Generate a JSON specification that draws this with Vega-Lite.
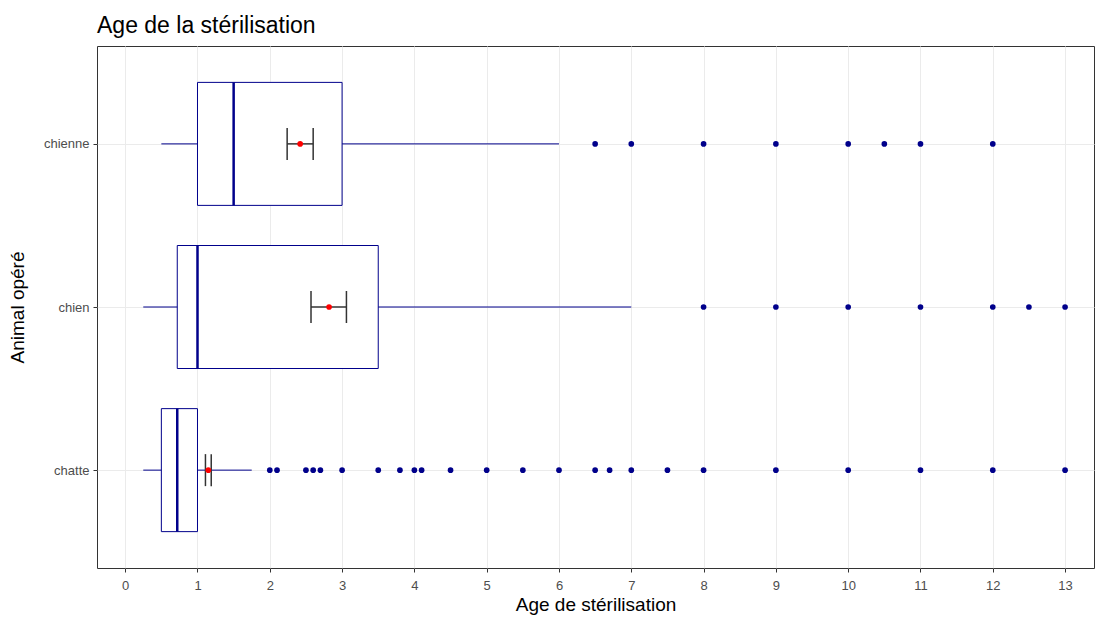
{
  "$schema": "https://vega.github.io/schema/vega-lite/v6.json",
  "autosize": {"type": "none"},
  "padding": {"left": 97, "top": 46, "right": 4, "bottom": 50},
  "width": 997,
  "height": 522,
  "title": {"text": "Age de la stérilisation", "anchor": "start", "frame": "group", "font": "Liberation Sans", "fontSize": 23, "fontWeight": "normal", "color": "#000000", "offset": 8},
  "datasets": {
    "boxes": [
      {"animal": "chienne", "lo": 0.5, "q1": 1.0, "med": 1.5, "q3": 3.0, "hi": 6.0, "mean": 2.42, "se_lo": 2.24, "se_hi": 2.6},
      {"animal": "chien", "lo": 0.25, "q1": 0.72, "med": 1.0, "q3": 3.5, "hi": 7.0, "mean": 2.82, "se_lo": 2.57, "se_hi": 3.06},
      {"animal": "chatte", "lo": 0.25, "q1": 0.5, "med": 0.72, "q3": 1.0, "hi": 1.75, "mean": 1.15, "se_lo": 1.11, "se_hi": 1.19}
    ],
    "outliers": [
      {"animal": "chienne", "age": 6.5}, {"animal": "chienne", "age": 7}, {"animal": "chienne", "age": 8}, {"animal": "chienne", "age": 9},
      {"animal": "chienne", "age": 10}, {"animal": "chienne", "age": 10.5}, {"animal": "chienne", "age": 11}, {"animal": "chienne", "age": 12},
      {"animal": "chien", "age": 8}, {"animal": "chien", "age": 9}, {"animal": "chien", "age": 10}, {"animal": "chien", "age": 11},
      {"animal": "chien", "age": 12}, {"animal": "chien", "age": 12.5}, {"animal": "chien", "age": 13},
      {"animal": "chatte", "age": 2.0}, {"animal": "chatte", "age": 2.1}, {"animal": "chatte", "age": 2.5}, {"animal": "chatte", "age": 2.6},
      {"animal": "chatte", "age": 2.7}, {"animal": "chatte", "age": 3.0}, {"animal": "chatte", "age": 3.5}, {"animal": "chatte", "age": 3.8},
      {"animal": "chatte", "age": 4.0}, {"animal": "chatte", "age": 4.1}, {"animal": "chatte", "age": 4.5}, {"animal": "chatte", "age": 5.0},
      {"animal": "chatte", "age": 5.5}, {"animal": "chatte", "age": 6.0}, {"animal": "chatte", "age": 6.5}, {"animal": "chatte", "age": 6.7},
      {"animal": "chatte", "age": 7.0}, {"animal": "chatte", "age": 7.5}, {"animal": "chatte", "age": 8}, {"animal": "chatte", "age": 9},
      {"animal": "chatte", "age": 10}, {"animal": "chatte", "age": 11}, {"animal": "chatte", "age": 12}, {"animal": "chatte", "age": 13}
    ]
  },
  "encoding": {
    "y": {
      "field": "animal", "type": "nominal",
      "sort": ["chienne", "chien", "chatte"],
      "scale": {"type": "point", "padding": 0.6},
      "axis": {"title": "Animal opéré", "titlePadding": 16, "labelPadding": 4}
    }
  },
  "layer": [
    {
      "data": {"name": "boxes"},
      "mark": {"type": "rule", "color": "#00008b", "strokeWidth": 1},
      "encoding": {
        "x": {
          "field": "lo", "type": "quantitative",
          "scale": {"domain": [-0.39, 13.4], "nice": false, "zero": false},
          "axis": {
            "title": "Age de stérilisation",
            "values": [0, 0.5, 1, 1.5, 2, 2.5, 3, 3.5, 4, 4.5, 5, 5.5, 6, 6.5, 7, 7.5, 8, 8.5, 9, 9.5, 10, 10.5, 11, 11.5, 12, 12.5, 13],
            "labelExpr": "datum.value % 1 === 0 ? format(datum.value, 'd') : ''",
            "tickColor": {"condition": {"test": "datum.value % 1 !== 0", "value": "transparent"}, "value": "#333333"},
            "gridColor": {"condition": {"test": "datum.value % 1 !== 0", "value": "#f2f2f2"}, "value": "#ebebeb"},
            "labelPadding": 7,
            "titlePadding": 3
          }
        },
        "x2": {"field": "hi"}
      }
    },
    {
      "data": {"name": "boxes"},
      "mark": {"type": "bar", "fill": "white", "stroke": "#00008b", "strokeWidth": 1, "size": 123},
      "encoding": {
        "x": {"field": "q1", "type": "quantitative"},
        "x2": {"field": "q3"}
      }
    },
    {
      "data": {"name": "boxes"},
      "mark": {"type": "tick", "color": "#00008b", "size": 123, "thickness": 2.5, "orient": "vertical", "opacity": 1},
      "encoding": {
        "x": {"field": "med", "type": "quantitative"}
      }
    },
    {
      "data": {"name": "outliers"},
      "mark": {"type": "circle", "color": "#00008b", "opacity": 1, "size": 32},
      "encoding": {
        "x": {"field": "age", "type": "quantitative"}
      }
    },
    {
      "data": {"name": "boxes"},
      "mark": {"type": "rule", "color": "#333333", "strokeWidth": 1.5},
      "encoding": {
        "x": {"field": "se_lo", "type": "quantitative"},
        "x2": {"field": "se_hi"}
      }
    },
    {
      "data": {"name": "boxes"},
      "mark": {"type": "tick", "color": "#333333", "size": 32, "thickness": 1.5, "orient": "vertical", "opacity": 1},
      "encoding": {
        "x": {"field": "se_lo", "type": "quantitative"}
      }
    },
    {
      "data": {"name": "boxes"},
      "mark": {"type": "tick", "color": "#333333", "size": 32, "thickness": 1.5, "orient": "vertical", "opacity": 1},
      "encoding": {
        "x": {"field": "se_hi", "type": "quantitative"}
      }
    },
    {
      "data": {"name": "boxes"},
      "mark": {"type": "circle", "color": "#ff0000", "opacity": 1, "size": 32},
      "encoding": {
        "x": {"field": "mean", "type": "quantitative"}
      }
    }
  ],
  "config": {
    "view": {"stroke": "#333333", "strokeWidth": 1},
    "axis": {
      "domain": false,
      "grid": true,
      "gridColor": "#ebebeb",
      "gridWidth": 1,
      "tickColor": "#333333",
      "tickSize": 4,
      "labelColor": "#4d4d4d",
      "labelFont": "Liberation Sans",
      "labelFontSize": 13,
      "titleFont": "Liberation Sans",
      "titleFontSize": 19,
      "titleFontWeight": "normal",
      "titleColor": "#000000"
    }
  }
}
